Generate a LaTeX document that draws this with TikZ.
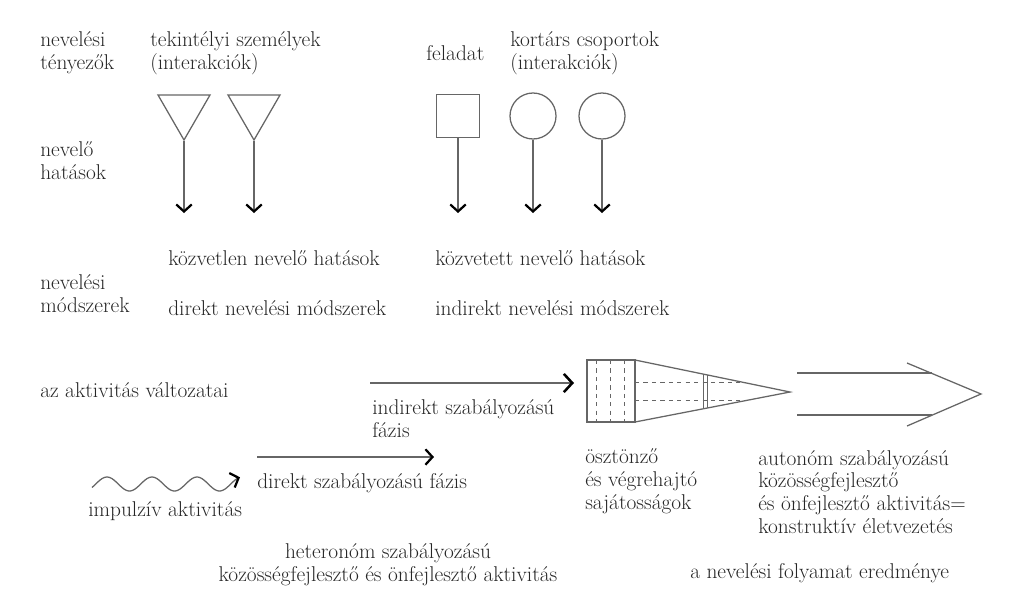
\documentclass[tikz,border=0pt]{standalone}
\usepackage{fontspec}
\usepackage{tikz}
\usetikzlibrary{shapes.geometric,arrows.meta}

\tikzset{
  lbl/.style={anchor=west,inner sep=0pt,align=left,text=black!85,font=\fontsize{15.2}{16.2}\selectfont},
  shp/.style={draw=black!60,line width=0.9pt,inner sep=0pt},
  fl/.style={draw=black!60,line width=0.9pt},
}

\begin{document}
\begin{tikzpicture}[x=0.025cm,y=-0.025cm,>={Straight Barb[length=5pt,width=11pt,line width=1.6pt,color=black]}]
			\useasboundingbox (0,0) rectangle (1017,606);
			% row labels
			\node[lbl] (nt) at (40,53) {nevelési\\tényezők};
			\node[lbl] (nh) at (40,161) {nevelő\\hatások};
			\node[lbl] (nm) at (40,294) {nevelési\\módszerek};
			\node[lbl] (akt) at (40,390) {az aktivitás változatai};
			% factors
			\node[lbl] (tsz) at (150,53) {tekintélyi személyek\\(interakciók)};
			\node[lbl] (fel) at (426,53) {feladat};
			\node[lbl] (kcs) at (510,53) {kortárs csoportok\\(interakciók)};
			\node[shp,regular polygon,regular polygon sides=3,shape border rotate=180,minimum size=1.5cm] (tri1) at (184,110) {};
			\node[shp,regular polygon,regular polygon sides=3,shape border rotate=180,minimum size=1.5cm] (tri2) at (254,110) {};
			\node[shp,rectangle,minimum size=1.075cm] (sq) at (458,116) {};
			\node[shp,circle,minimum size=1.15cm] (ci1) at (533,116) {};
			\node[shp,circle,minimum size=1.15cm] (ci2) at (602,116) {};
			\coordinate (e1) at (184,213);
			\coordinate (e2) at (254,213);
			\coordinate (e3) at (458,213);
			\coordinate (e4) at (533,213);
			\coordinate (e5) at (602,213);
			\draw[fl,->] (tri1.corner 1) -- (e1);
			\draw[fl,->] (tri2.corner 1) -- (e2);
			\draw[fl,->] (sq.south) -- (e3);
			\draw[fl,->] (ci1.south) -- (e4);
			\draw[fl,->] (ci2.south) -- (e5);
			% effects and methods
			\node[lbl] (kozv) at (168,258) {közvetlen nevelő hatások};
			\node[lbl] (kozt) at (435,258) {közvetett nevelő hatások};
			\node[lbl] (dir) at (168,308) {direkt nevelési módszerek};
			\node[lbl] (ind) at (435,308) {indirekt nevelési módszerek};
			% activity
			\draw[fl,->] plot[domain=92:240,samples=90] (\x,{484-7*cos((\x-107)*8)});
			\node[lbl] (imp) at (88,511) {impulzív aktivitás};
			\coordinate (da) at (257,457);
			\coordinate (db) at (434,457);
			\draw[fl,->] (da) -- (db);
			\node[lbl] (dsz) at (257,483) {direkt szabályozású fázis};
			\coordinate (ia) at (370,383);
			\coordinate (ib) at (574,383);
			\draw[fl,-{Straight Barb[length=6pt,width=13pt,line width=1.8pt,color=black]}] (ia) -- (ib);
			\node[lbl] (isz) at (372,419) {indirekt szabályozású\\fázis};
			\node[lbl,align=center,anchor=center] (het) at (388,565) {heteronóm szabályozású\\közösségfejlesztő és önfejlesztő aktivitás};
			% cone
			\draw[fl] (587,360) rectangle (635,422);
			\foreach \x in {596,610,624}
				\draw[fl,dashed,line width=0.6pt] (\x,360) -- (\x,422);
			\draw[fl] (635,360) -- (790,392) -- (635,422);
			\draw[fl,dashed,line width=0.6pt] (635,382) -- (741,382);
			\draw[fl,dashed,line width=0.6pt] (635,400) -- (745,400);
			\draw[fl,line width=0.6pt] (703,374) -- (703,409);
			\draw[fl,line width=0.6pt] (707,375) -- (707,408);
			\node[lbl] (osz) at (585,481) {ösztönző\\és végrehajtó\\sajátosságok};
			% result arrow
			\draw[fl] (797,373) -- (932,373);
			\draw[fl] (797,415) -- (932,415);
			\draw[fl] (907,363) -- (981,394) -- (907,426);
			\node[lbl] (aut) at (758,492) {autonóm szabályozású\\közösségfejlesztő\\és önfejlesztő aktivitás=\\konstruktív életvezetés};
			\node[lbl] (ered) at (690,573) {a nevelési folyamat eredménye};
		\end{tikzpicture}
\end{document}
